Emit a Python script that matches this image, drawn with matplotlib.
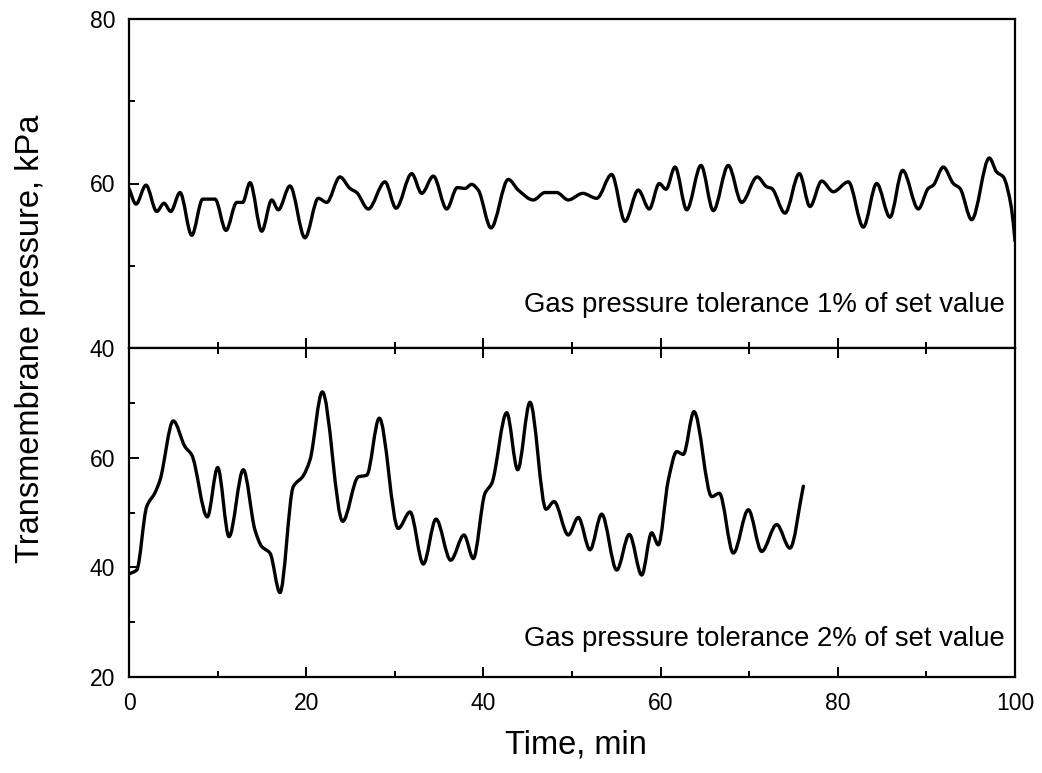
import matplotlib
matplotlib.use("Agg")
from matplotlib import pyplot as plt
from matplotlib.path import Path
from matplotlib.patches import PathPatch
from matplotlib.ticker import FixedLocator, MultipleLocator
import numpy as np

plt.rcParams['font.family'] = ['Liberation Sans', 'DejaVu Sans']

# tolerance 1% run (top panel)
t_1pct = [0.0, 0.79, 1.92, 3.13, 3.95, 4.71, 5.76, 7.08, 8.32, 9.71,
          10.95, 12.16, 12.83, 13.66, 14.98, 16.11, 16.85, 18.17, 19.86, 21.37,
          22.31, 23.81, 24.94, 25.70, 27.01, 28.89, 30.14, 31.91, 33.04, 34.35,
          35.86, 37.05, 37.92, 38.68, 39.42, 40.86, 42.81, 43.94, 45.63, 46.95,
          48.27, 49.58, 51.21, 52.79, 54.48, 55.98, 57.48, 58.72, 59.85, 60.61,
          61.63, 62.95, 64.56, 65.95, 67.64, 69.15, 70.91, 71.98, 72.54, 74.04,
          75.66, 76.86, 78.18, 79.49, 81.19, 82.88, 84.39, 85.89, 87.32, 89.09,
          90.21, 90.78, 91.91, 93.04, 93.79, 95.11, 97.10, 97.93, 98.68, 99.6,
          100.0]
p_1pct = [59.4, 57.5, 59.8, 56.6, 57.6, 56.6, 58.9, 53.7, 58.1, 58.1,
          54.3, 57.7, 57.7, 60.1, 54.2, 58.0, 56.8, 59.7, 53.4, 58.2,
          57.7, 60.8, 59.4, 58.9, 56.9, 60.2, 57.0, 61.2, 58.8, 60.9,
          56.9, 59.5, 59.4, 59.9, 59.2, 54.6, 60.5, 59.2, 58.0, 58.9,
          58.9, 58.0, 58.8, 58.2, 61.1, 55.4, 59.2, 56.9, 60.0, 59.3,
          62.0, 56.8, 62.2, 56.7, 62.2, 57.7, 60.8, 59.6, 59.4, 56.4,
          61.2, 57.2, 60.3, 59.0, 60.2, 54.7, 60.0, 55.9, 61.6, 56.9,
          59.4, 59.8, 62.0, 60.0, 59.4, 55.6, 63.1, 61.4, 60.8, 57.0,
          53.0]

# tolerance 2% run (bottom panel)
t_2pct = [0.0, 0.87, 2.0, 2.93, 3.50, 5.0, 6.32, 7.08, 8.84, 10.01,
          11.29, 12.90, 14.22, 14.98, 15.91, 17.04, 18.54, 19.67, 20.43, 21.82,
          24.12, 25.88, 26.83, 28.25, 30.39, 31.72, 33.22, 34.65, 36.31, 37.81,
          38.86, 40.18, 40.94, 42.63, 43.87, 45.26, 47.07, 47.97, 49.58, 50.71,
          52.03, 53.35, 55.05, 56.47, 57.87, 58.99, 59.74, 60.87, 61.82, 62.56,
          63.77, 65.77, 66.63, 68.21, 69.90, 71.41, 73.10, 74.60, 76.11]
p_2pct = [38.8, 39.5, 51.1, 53.6, 55.9, 66.7, 62.0, 60.5, 49.2, 58.2,
          45.6, 57.8, 46.8, 43.8, 42.6, 35.4, 54.7, 56.7, 59.6, 72.0,
          48.4, 56.5, 56.8, 67.2, 47.1, 50.1, 40.6, 48.8, 41.3, 45.9,
          41.6, 53.5, 55.3, 68.2, 57.8, 70.1, 50.6, 52.0, 45.9, 49.1,
          43.2, 49.7, 39.5, 46.0, 38.6, 46.3, 44.1, 55.9, 61.1, 60.6,
          68.4, 52.9, 53.5, 42.6, 50.5, 42.9, 47.8, 43.5, 54.8]

x_ticks = [0, 20, 40, 60, 80, 100]
top_yticks = [40, 60, 80]
bot_yticks = [20, 40, 60, 80]
bot_ylabels = ["20", "40", "60", ""]


def smooth_path(x, y):
    # draw the measured points as a smooth curve (cubic Bezier segments,
    # tangents like pchip so the extremes stay where they were read)
    x = np.asarray(x, float)
    y = np.asarray(y, float)
    h = np.diff(x)
    d = np.diff(y) / h
    m = np.zeros_like(y)
    for i in range(1, len(y) - 1):
        if d[i - 1] * d[i] > 0:
            w1 = 2 * h[i] + h[i - 1]
            w2 = h[i] + 2 * h[i - 1]
            m[i] = (w1 + w2) / (w1 / d[i - 1] + w2 / d[i])
    m[0] = d[0]
    m[-1] = d[-1]
    verts = [(x[0], y[0])]
    codes = [Path.MOVETO]
    for i in range(len(x) - 1):
        verts += [(x[i] + h[i] / 3, y[i] + m[i] * h[i] / 3),
                  (x[i + 1] - h[i] / 3, y[i + 1] - m[i + 1] * h[i] / 3),
                  (x[i + 1], y[i + 1])]
        codes += [Path.CURVE4] * 3
    return Path(verts, codes)


W, H = 1042, 773
fig = plt.figure(figsize=(W / 100, H / 100), dpi=100)
left, right = 129 / W, 1015 / W
ax1 = fig.add_axes([left, 1 - 348 / H, right - left, 329 / H])
ax2 = fig.add_axes([left, 1 - 677 / H, right - left, 329 / H])

for ax, t, p in ((ax1, t_1pct, p_1pct), (ax2, t_2pct, p_2pct)):
    ax.add_patch(PathPatch(smooth_path(t, p), fill=False, edgecolor="black",
                           lw=2.4, joinstyle="round", capstyle="round"))

ax1.set_ylim(40, 80)
ax2.set_ylim(20, 80)
for ax in (ax1, ax2):
    ax.set_xlim(0, 100)
    ax.xaxis.set_major_locator(FixedLocator(x_ticks))
    ax.xaxis.set_minor_locator(MultipleLocator(10))
    ax.yaxis.set_minor_locator(MultipleLocator(10))
    for s in ax.spines.values():
        s.set_linewidth(1.6)
    ax.tick_params(which="both", direction="in", width=1.4, labelsize=16.5,
                   right=False, pad=10)
    ax.tick_params(which="major", length=7)
    ax.tick_params(which="minor", length=4.5)

ax1.set_yticks(top_yticks)
ax1.tick_params(axis="x", which="both", top=False, bottom=True, labelbottom=False)

ax2.set_yticks(bot_yticks)
ax2.set_yticklabels(bot_ylabels)
ax2.tick_params(axis="x", which="both", top=True, bottom=True, pad=11)

ax1.text(0.9887, 0.11, "Gas pressure tolerance 1% of set value",
         transform=ax1.transAxes, ha="right", va="baseline", fontsize=19.8)
ax2.text(0.9887, 0.094, "Gas pressure tolerance 2% of set value",
         transform=ax2.transAxes, ha="right", va="baseline", fontsize=19.8)

fig.text(31 / W, 1 - 339 / H, "Transmembrane pressure, kPa", rotation=90,
         ha="center", va="center", fontsize=23.5)
fig.text(576 / W, 1 - 745 / H, "Time, min", ha="center", va="center", fontsize=23.5)

plt.savefig("out.png", dpi=100)
